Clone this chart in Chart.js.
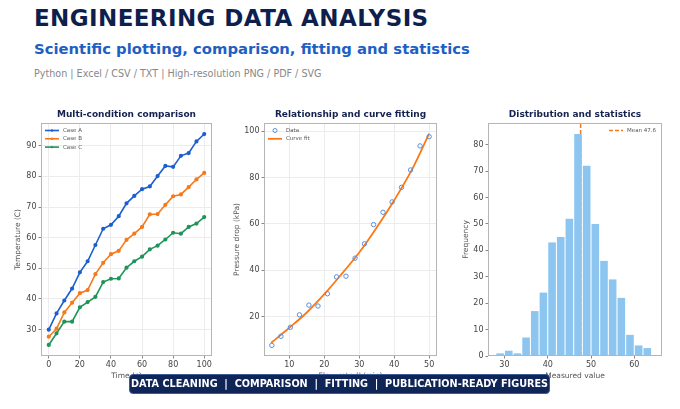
<!DOCTYPE html>
<html>
<head>
<meta charset="utf-8">
<script src="https://cdn.jsdelivr.net/npm/chart.js@4.4.1/dist/chart.umd.min.js"></script>
<style>
  body { margin: 0; background: #fff; font-family: "DejaVu Sans", sans-serif; }
  #page { position: relative; width: 680px; height: 409px; overflow: hidden; }
  .h1 { position: absolute; left: 34px; top: 5px; font-size: 23px; font-weight: bold; color: #0f1f4d; letter-spacing: 0.4px; }
  .h2 { position: absolute; left: 34px; top: 40px; font-size: 14.8px; font-weight: bold; color: #1e5fc4; }
  .h3 { position: absolute; left: 34px; top: 68px; font-size: 9.6px; color: #888; }
  .cell { position: absolute; top: 100px; height: 290px; }
  #banner { position: absolute; left: 129px; top: 374px; width: 419px; height: 18px; background: #0f2557; border: 1px solid #3b5a96; border-radius: 4px;
            color: #fff; font-weight: bold; font-size: 9.7px; line-height: 18px; text-align: center; white-space: pre; }
</style>
</head>
<body>
<div id="page">
  <div class="h1">ENGINEERING DATA ANALYSIS</div>
  <div class="h2">Scientific plotting, comparison, fitting and statistics</div>
  <div class="h3">Python | Excel / CSV / TXT | High-resolution PNG / PDF / SVG</div>
  <div class="cell" style="left:0;width:225px"><canvas id="c1" width="225" height="290"></canvas></div>
  <div class="cell" style="left:225px;width:225px"><canvas id="c2" width="225" height="290"></canvas></div>
  <div class="cell" style="left:450px;width:225px"><canvas id="c3" width="225" height="290"></canvas></div>
  <div id="banner">DATA CLEANING  |  COMPARISON  |  FITTING  |  PUBLICATION-READY FIGURES</div>
</div>
<script>
// left: temperature vs time
var timeS = [0, 5, 10, 15, 20, 25, 30, 35, 40, 45, 50, 55, 60, 65, 70, 75, 80, 85, 90, 95, 100];
var caseA = [30, 35.3, 39.5, 43.4, 48.7, 52.3, 57.6, 62.9, 64.2, 67, 71.2, 73.6, 75.8, 76.7, 80.1, 83.4, 83.1, 86.7, 87.6, 91.4, 93.8];
var caseB = [27.7, 30.3, 35.6, 38.8, 41.9, 42.9, 48.1, 51.8, 54.6, 55.7, 59.3, 61.3, 63.5, 67.6, 67.7, 70.7, 73.5, 74.1, 76.5, 79, 81.1];
var caseC = [25, 28.8, 32.6, 32.6, 37.3, 39, 40.7, 45.5, 46.6, 46.7, 50.2, 52.3, 53.8, 56.2, 57.4, 59.4, 61.6, 61.3, 63.5, 64.6, 66.7];

// middle: pressure drop vs flow
var flowX = [5, 7.6, 10.3, 12.9, 15.6, 18.2, 20.9, 23.5, 26.2, 28.8, 31.5, 34.1, 36.8, 39.4, 42.1, 44.7, 47.4, 50];
var pressureY = [7.5, 11.4, 15.3, 20.7, 24.9, 24.5, 29.8, 37.1, 37.4, 45.2, 51.4, 59.7, 65, 69.5, 75.8, 83.3, 93.7, 97.7];
var fitX = [4.8, 10, 15, 20, 25, 30, 35, 40, 45, 50];
var fitY = [8.6, 15.1, 21.7, 29.6, 38.4, 47.6, 58.4, 70.2, 83.2, 99];

// right: histogram
var binCenters = [29, 31, 33, 35, 37, 39, 41, 43, 45, 47, 49, 51, 53, 55, 57, 59, 61, 63];
var binCounts = [1, 2, 1, 7, 17, 24, 43, 45, 52, 84, 72, 50, 36, 29, 22, 8, 4, 3];
var meanValue = 47.6;

var tickFont = { family: 'DejaVu Sans', size: 8 };
var axisTitleFont = { family: 'DejaVu Sans', size: 7.5 };

// plot frame, title over the plot area and a small legend inside it
var decor = {
  id: 'decor',
  afterDatasetsDraw: function(chart, args, opts) {
    var a = chart.chartArea, ctx = chart.ctx;
    ctx.save();
    ctx.strokeStyle = '#b5b5b5';
    ctx.lineWidth = 1;
    ctx.strokeRect(a.left + 0.5, a.top + 0.5, a.right - a.left - 1, a.bottom - a.top - 1);

    ctx.fillStyle = '#13224f';
    ctx.font = 'bold 9px "DejaVu Sans"';
    ctx.textAlign = 'center';
    ctx.textBaseline = 'middle';
    ctx.fillText(opts.title, (a.left + a.right) / 2, 14.5);

    ctx.font = '5.5px "DejaVu Sans"';
    ctx.textAlign = 'left';
    var items = chart.data.datasets.filter(function(d) { return d.legendType; });
    var x0 = opts.align === 'right' ? a.right - 53 : a.left + 4;
    items.forEach(function(d, i) {
      var y = a.top + 7.5 + i * 8.3;
      ctx.strokeStyle = d.borderColor;
      ctx.setLineDash(d.borderDash || []);
      if (d.legendType === 'circle') {
        ctx.lineWidth = 1;
        ctx.beginPath();
        ctx.arc(x0 + 7, y, 2, 0, Math.PI * 2);
        ctx.stroke();
      } else {
        ctx.lineWidth = d.borderWidth;
        ctx.beginPath();
        ctx.moveTo(x0, y);
        ctx.lineTo(x0 + 14, y);
        ctx.stroke();
        if (d.legendType === 'linepoint') {
          ctx.fillStyle = d.borderColor;
          ctx.beginPath();
          ctx.arc(x0 + 7, y, 1.2, 0, Math.PI * 2);
          ctx.fill();
        }
      }
      ctx.setLineDash([]);
      ctx.fillStyle = '#555';
      ctx.fillText(d.label, x0 + 18, y);
    });
    ctx.restore();
  }
};

function axis(min, max, step, title, showGrid, sizeFix, isY) {
  return {
    type: 'linear', min: min, max: max, offset: false,
    border: { display: false },
    grid: { display: true, offset: false, drawOnChartArea: showGrid, color: '#ececec', borderDash: [1.5, 2], tickColor: '#888', tickLength: 2.5, tickBorderDash: [] },
    ticks: { stepSize: step, includeBounds: false, color: '#444', font: tickFont, padding: 2, maxRotation: 0 },
    title: { display: true, text: title, color: '#555', font: axisTitleFont, padding: 1 },
    afterFit: function(s) { if (isY) s.width = sizeFix; else s.height = sizeFix; }
  };
}

function baseOptions(title, align, padLeft) {
  return {
    responsive: false,
    animation: false,
    layout: { padding: { left: padLeft, right: 13, top: 23, bottom: 8 } },
    plugins: {
      decor: { title: title, align: align },
      legend: { display: false },
      tooltip: { enabled: false }
    }
  };
}

// chart 1
var o1 = baseOptions('Multi-condition comparison', 'left', 12.5);
o1.scales = { x: axis(-5, 105, 20, 'Time (s)', true, 26, false), y: axis(21.4, 97.4, 10, 'Temperature (C)', true, 28.5, true) };
function lineSet(label, values, color) {
  return { label: label, legendType: 'linepoint', data: values.map(function(v, i) { return { x: timeS[i], y: v }; }),
           borderColor: color, backgroundColor: color, borderWidth: 1.6, pointRadius: 1.3, pointHoverRadius: 1.3, tension: 0 };
}
new Chart(document.getElementById('c1'), {
  type: 'line',
  data: { datasets: [lineSet('Case A', caseA, '#1c5fcf'), lineSet('Case B', caseB, '#f57a1c'), lineSet('Case C', caseC, '#1e9558')] },
  options: o1,
  plugins: [decor]
});

// chart 2
var o2 = baseOptions('Relationship and curve fitting', 'left', 6.5);
o2.scales = { x: axis(2.75, 52.25, 10, 'Flow rate (L/min)', true, 26, false), y: axis(2.9, 103.6, 20, 'Pressure drop (kPa)', true, 32.5, true) };
new Chart(document.getElementById('c2'), {
  type: 'line',
  data: { datasets: [
    { label: 'Data', legendType: 'circle', data: flowX.map(function(x, i) { return { x: x, y: pressureY[i] }; }), showLine: false,
      borderColor: '#5b8ed8', backgroundColor: 'rgba(0,0,0,0)', pointRadius: 2.2, pointBorderWidth: 1 },
    { label: 'Curve fit', legendType: 'line', data: fitX.map(function(x, i) { return { x: x, y: fitY[i] }; }), borderColor: '#ff7712',
      borderWidth: 1.8, pointRadius: 0, cubicInterpolationMode: 'monotone' }
  ] },
  options: o2,
  plugins: [decor]
});

// chart 3
var o3 = baseOptions('Distribution and statistics', 'right', 10.5);
o3.scales = { x: axis(26.2, 66.4, 10, 'Measured value', false, 26, false), y: axis(0, 88.2, 10, 'Frequency', false, 27.5, true) };
new Chart(document.getElementById('c3'), {
  type: 'bar',
  data: { datasets: [
    { label: 'Counts', data: binCenters.map(function(x, i) { return { x: x, y: binCounts[i] }; }), backgroundColor: '#8cc6f0',
      borderWidth: 0, barPercentage: 0.88, categoryPercentage: 1 },
    { type: 'line', label: 'Mean ' + meanValue, legendType: 'line', data: [{ x: meanValue, y: 0 }, { x: meanValue, y: 88.2 }],
      borderColor: '#f07a1e', borderWidth: 1.5, borderDash: [4, 2], pointRadius: 0 }
  ] },
  options: o3,
  plugins: [decor]
});
</script>
</body>
</html>
